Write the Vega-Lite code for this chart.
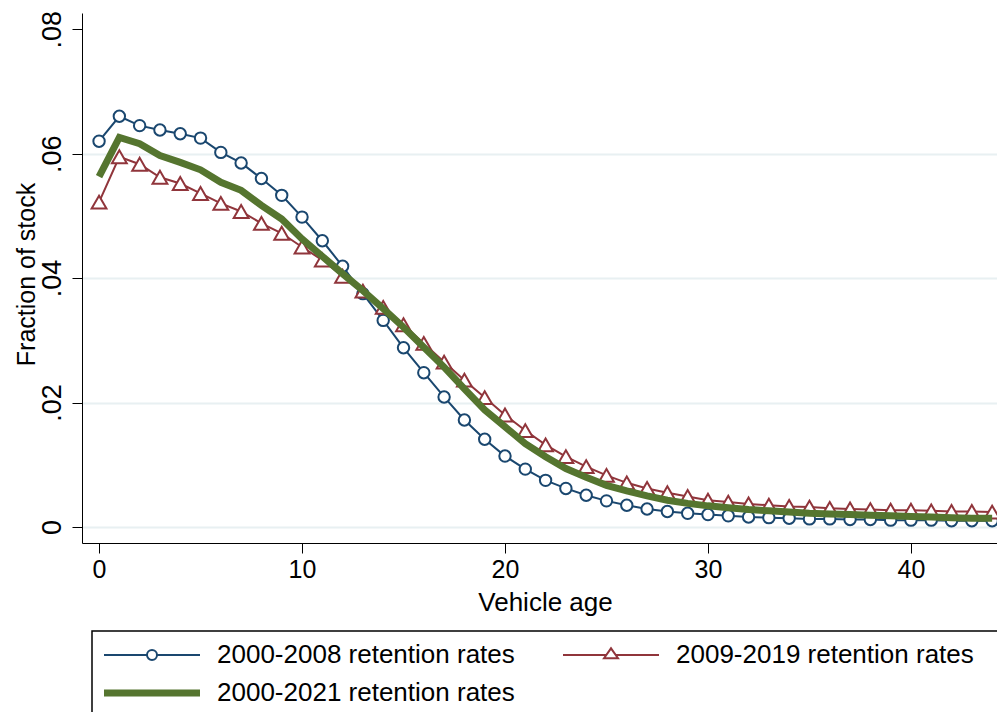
{
  "$schema": "https://vega.github.io/schema/vega-lite/v6.json",
  "width": 915,
  "height": 530,
  "autosize": {"type": "none"},
  "padding": {"left": 82, "top": 13, "right": 0, "bottom": 169},
  "background": "white",
  "config": {
    "view": {"stroke": null},
    "font": "Liberation Sans"
  },
  "data": {
    "values": [
      {"age": 0, "series": "2000-2008", "value": 0.0620},
      {"age": 1, "series": "2000-2008", "value": 0.0660},
      {"age": 2, "series": "2000-2008", "value": 0.0645},
      {"age": 3, "series": "2000-2008", "value": 0.0638},
      {"age": 4, "series": "2000-2008", "value": 0.0632},
      {"age": 5, "series": "2000-2008", "value": 0.0625},
      {"age": 6, "series": "2000-2008", "value": 0.0602},
      {"age": 7, "series": "2000-2008", "value": 0.0585},
      {"age": 8, "series": "2000-2008", "value": 0.0560},
      {"age": 9, "series": "2000-2008", "value": 0.0533},
      {"age": 10, "series": "2000-2008", "value": 0.0498},
      {"age": 11, "series": "2000-2008", "value": 0.0460},
      {"age": 12, "series": "2000-2008", "value": 0.0419},
      {"age": 13, "series": "2000-2008", "value": 0.0375},
      {"age": 14, "series": "2000-2008", "value": 0.0332},
      {"age": 15, "series": "2000-2008", "value": 0.0288},
      {"age": 16, "series": "2000-2008", "value": 0.0248},
      {"age": 17, "series": "2000-2008", "value": 0.0209},
      {"age": 18, "series": "2000-2008", "value": 0.0172},
      {"age": 19, "series": "2000-2008", "value": 0.0141},
      {"age": 20, "series": "2000-2008", "value": 0.0114},
      {"age": 21, "series": "2000-2008", "value": 0.0093},
      {"age": 22, "series": "2000-2008", "value": 0.0075},
      {"age": 23, "series": "2000-2008", "value": 0.0062},
      {"age": 24, "series": "2000-2008", "value": 0.0051},
      {"age": 25, "series": "2000-2008", "value": 0.0042},
      {"age": 26, "series": "2000-2008", "value": 0.0035},
      {"age": 27, "series": "2000-2008", "value": 0.0029},
      {"age": 28, "series": "2000-2008", "value": 0.0025},
      {"age": 29, "series": "2000-2008", "value": 0.0022},
      {"age": 30, "series": "2000-2008", "value": 0.0020},
      {"age": 31, "series": "2000-2008", "value": 0.0018},
      {"age": 32, "series": "2000-2008", "value": 0.0016},
      {"age": 33, "series": "2000-2008", "value": 0.0015},
      {"age": 34, "series": "2000-2008", "value": 0.0014},
      {"age": 35, "series": "2000-2008", "value": 0.0013},
      {"age": 36, "series": "2000-2008", "value": 0.0013},
      {"age": 37, "series": "2000-2008", "value": 0.0012},
      {"age": 38, "series": "2000-2008", "value": 0.0012},
      {"age": 39, "series": "2000-2008", "value": 0.0011},
      {"age": 40, "series": "2000-2008", "value": 0.0011},
      {"age": 41, "series": "2000-2008", "value": 0.0011},
      {"age": 42, "series": "2000-2008", "value": 0.0010},
      {"age": 43, "series": "2000-2008", "value": 0.0010},
      {"age": 44, "series": "2000-2008", "value": 0.0010},

      {"age": 0, "series": "2009-2019", "value": 0.0522},
      {"age": 1, "series": "2009-2019", "value": 0.0595},
      {"age": 2, "series": "2009-2019", "value": 0.0583},
      {"age": 3, "series": "2009-2019", "value": 0.0562},
      {"age": 4, "series": "2009-2019", "value": 0.0552},
      {"age": 5, "series": "2009-2019", "value": 0.0536},
      {"age": 6, "series": "2009-2019", "value": 0.0520},
      {"age": 7, "series": "2009-2019", "value": 0.0507},
      {"age": 8, "series": "2009-2019", "value": 0.0488},
      {"age": 9, "series": "2009-2019", "value": 0.0472},
      {"age": 10, "series": "2009-2019", "value": 0.0450},
      {"age": 11, "series": "2009-2019", "value": 0.0429},
      {"age": 12, "series": "2009-2019", "value": 0.0403},
      {"age": 13, "series": "2009-2019", "value": 0.0379},
      {"age": 14, "series": "2009-2019", "value": 0.0353},
      {"age": 15, "series": "2009-2019", "value": 0.0325},
      {"age": 16, "series": "2009-2019", "value": 0.0295},
      {"age": 17, "series": "2009-2019", "value": 0.0265},
      {"age": 18, "series": "2009-2019", "value": 0.0236},
      {"age": 19, "series": "2009-2019", "value": 0.0208},
      {"age": 20, "series": "2009-2019", "value": 0.0180},
      {"age": 21, "series": "2009-2019", "value": 0.0155},
      {"age": 22, "series": "2009-2019", "value": 0.0132},
      {"age": 23, "series": "2009-2019", "value": 0.0113},
      {"age": 24, "series": "2009-2019", "value": 0.0097},
      {"age": 25, "series": "2009-2019", "value": 0.0083},
      {"age": 26, "series": "2009-2019", "value": 0.0071},
      {"age": 27, "series": "2009-2019", "value": 0.0062},
      {"age": 28, "series": "2009-2019", "value": 0.0055},
      {"age": 29, "series": "2009-2019", "value": 0.0049},
      {"age": 30, "series": "2009-2019", "value": 0.0043},
      {"age": 31, "series": "2009-2019", "value": 0.0040},
      {"age": 32, "series": "2009-2019", "value": 0.0037},
      {"age": 33, "series": "2009-2019", "value": 0.0035},
      {"age": 34, "series": "2009-2019", "value": 0.0033},
      {"age": 35, "series": "2009-2019", "value": 0.0032},
      {"age": 36, "series": "2009-2019", "value": 0.0030},
      {"age": 37, "series": "2009-2019", "value": 0.0029},
      {"age": 38, "series": "2009-2019", "value": 0.0028},
      {"age": 39, "series": "2009-2019", "value": 0.0027},
      {"age": 40, "series": "2009-2019", "value": 0.0027},
      {"age": 41, "series": "2009-2019", "value": 0.0026},
      {"age": 42, "series": "2009-2019", "value": 0.0025},
      {"age": 43, "series": "2009-2019", "value": 0.0025},
      {"age": 44, "series": "2009-2019", "value": 0.0024},

      {"age": 0, "series": "2000-2021", "value": 0.0563},
      {"age": 1, "series": "2000-2021", "value": 0.0626},
      {"age": 2, "series": "2000-2021", "value": 0.0616},
      {"age": 3, "series": "2000-2021", "value": 0.0597},
      {"age": 4, "series": "2000-2021", "value": 0.0586},
      {"age": 5, "series": "2000-2021", "value": 0.0574},
      {"age": 6, "series": "2000-2021", "value": 0.0554},
      {"age": 7, "series": "2000-2021", "value": 0.0541},
      {"age": 8, "series": "2000-2021", "value": 0.0517},
      {"age": 9, "series": "2000-2021", "value": 0.0495},
      {"age": 10, "series": "2000-2021", "value": 0.0463},
      {"age": 11, "series": "2000-2021", "value": 0.0435},
      {"age": 12, "series": "2000-2021", "value": 0.0407},
      {"age": 13, "series": "2000-2021", "value": 0.0380},
      {"age": 14, "series": "2000-2021", "value": 0.0351},
      {"age": 15, "series": "2000-2021", "value": 0.0321},
      {"age": 16, "series": "2000-2021", "value": 0.0289},
      {"age": 17, "series": "2000-2021", "value": 0.0257},
      {"age": 18, "series": "2000-2021", "value": 0.0222},
      {"age": 19, "series": "2000-2021", "value": 0.0188},
      {"age": 20, "series": "2000-2021", "value": 0.0161},
      {"age": 21, "series": "2000-2021", "value": 0.0134},
      {"age": 22, "series": "2000-2021", "value": 0.0113},
      {"age": 23, "series": "2000-2021", "value": 0.0094},
      {"age": 24, "series": "2000-2021", "value": 0.0080},
      {"age": 25, "series": "2000-2021", "value": 0.0067},
      {"age": 26, "series": "2000-2021", "value": 0.0058},
      {"age": 27, "series": "2000-2021", "value": 0.0050},
      {"age": 28, "series": "2000-2021", "value": 0.0043},
      {"age": 29, "series": "2000-2021", "value": 0.0038},
      {"age": 30, "series": "2000-2021", "value": 0.0034},
      {"age": 31, "series": "2000-2021", "value": 0.0031},
      {"age": 32, "series": "2000-2021", "value": 0.0028},
      {"age": 33, "series": "2000-2021", "value": 0.0026},
      {"age": 34, "series": "2000-2021", "value": 0.0024},
      {"age": 35, "series": "2000-2021", "value": 0.0022},
      {"age": 36, "series": "2000-2021", "value": 0.0021},
      {"age": 37, "series": "2000-2021", "value": 0.0020},
      {"age": 38, "series": "2000-2021", "value": 0.0019},
      {"age": 39, "series": "2000-2021", "value": 0.0018},
      {"age": 40, "series": "2000-2021", "value": 0.0017},
      {"age": 41, "series": "2000-2021", "value": 0.0016},
      {"age": 42, "series": "2000-2021", "value": 0.0015},
      {"age": 43, "series": "2000-2021", "value": 0.0014},
      {"age": 44, "series": "2000-2021", "value": 0.0014}
    ]
  },
  "encoding": {
    "x": {
      "field": "age",
      "type": "quantitative",
      "scale": {"domain": [-0.84, 44.24], "nice": false, "zero": false},
      "axis": {
        "values": [0, 10, 20, 30, 40],
        "grid": false,
        "domainColor": "black",
        "domainWidth": 1,
        "tickColor": "black",
        "tickWidth": 1,
        "tickSize": 10,
        "labelFontSize": 25,
        "labelColor": "black",
        "labelPadding": 4,
        "labelFlush": false,
        "title": "Vehicle age",
        "titleFontSize": 26,
        "titleFontWeight": "normal",
        "titleColor": "black",
        "titleX": 463,
        "titleY": 67,
        "titleAlign": "center",
        "titleBaseline": "alphabetic"
      }
    },
    "y": {
      "field": "value",
      "type": "quantitative",
      "scale": {"domain": [-0.00257, 0.0826], "nice": false, "zero": false},
      "axis": {
        "values": [0, 0.02, 0.04, 0.06, 0.08],
        "labelExpr": "datum.value == 0 ? '0' : replace(format(datum.value, '.2f'), '0.', '.')",
        "labelAngle": 270,
        "labelAlign": "center",
        "labelBaseline": "alphabetic",
        "labelPadding": 12,
        "labelFontSize": 27,
        "labelColor": "black",
        "labelFlush": false,
        "domainColor": "black",
        "domainWidth": 1,
        "tickColor": "black",
        "tickWidth": 1,
        "tickSize": 10,
        "grid": true,
        "gridColor": "#e8f0f2",
        "gridWidth": 2,
        "gridOpacity": {"condition": {"test": "datum.value > 0.07", "value": 0}, "value": 1},
        "title": "Fraction of stock",
        "titleFontSize": 25,
        "titleFontWeight": "normal",
        "titleColor": "black",
        "titleAngle": 270,
        "titleX": -48,
        "titleY": 261,
        "titleAlign": "center",
        "titleBaseline": "alphabetic"
      }
    },
    "color": {
      "field": "series",
      "type": "nominal",
      "scale": {
        "domain": ["2000-2008", "2009-2019", "2000-2021"],
        "range": ["#1a476f", "#90353b", "#55752f"]
      },
      "legend": {
        "orient": "none",
        "legendX": 10,
        "legendY": 618,
        "direction": "horizontal",
        "columns": 2,
        "title": " ",
        "titleOrient": "right",
        "titlePadding": 24,
        "titleFontSize": 26,
        "strokeColor": "black",
        "fillColor": "white",
        "padding": 11,
        "columnPadding": 44,
        "rowPadding": 11,
        "symbolSize": 576,
        "labelOffset": 88,
        "labelFontSize": 26,
        "labelColor": "black",
        "labelLimit": 600,
        "labelExpr": "datum.label + ' retention rates'",
        "encode": {
          "legend": {
            "update": {
              "strokeWidth": {"value": 1.5}
            }
          },
          "symbols": {
            "update": {
              "shape": {"signal": "datum.value === '2000-2008' ? 'M-1,0H2.583M3.417,0H7M2.583,0A0.4167,0.4167 0 1,1 3.417,0A0.4167,0.4167 0 1,1 2.583,0Z' : datum.value === '2009-2019' ? 'M-1,0H2.61M3.39,0H7M2.417,0.275L3,-0.558L3.583,0.275Z' : 'M-1,0H7'"},
              "strokeWidth": {"signal": "datum.value === '2000-2021' ? 7 : 2"},
              "fill": {"value": "white"},
              "opacity": {"value": 1}
            }
          }
        }
      }
    }
  },
  "layer": [
    {
      "transform": [{"filter": "datum.series === '2000-2008'"}],
      "mark": {"type": "line", "strokeWidth": 2}
    },
    {
      "transform": [{"filter": "datum.series === '2000-2008'"}],
      "mark": {"type": "point", "shape": "circle", "size": 130, "filled": false, "fill": "white", "strokeWidth": 2, "opacity": 1}
    },
    {
      "transform": [{"filter": "datum.series === '2009-2019'"}],
      "mark": {"type": "line", "strokeWidth": 2}
    },
    {
      "transform": [{"filter": "datum.series === '2009-2019'"}],
      "mark": {"type": "point", "shape": "triangle-up", "size": 220, "filled": false, "fill": "white", "strokeWidth": 2, "opacity": 1}
    },
    {
      "transform": [{"filter": "datum.series === '2000-2021'"}],
      "mark": {"type": "line", "strokeWidth": 7}
    }
  ]
}
